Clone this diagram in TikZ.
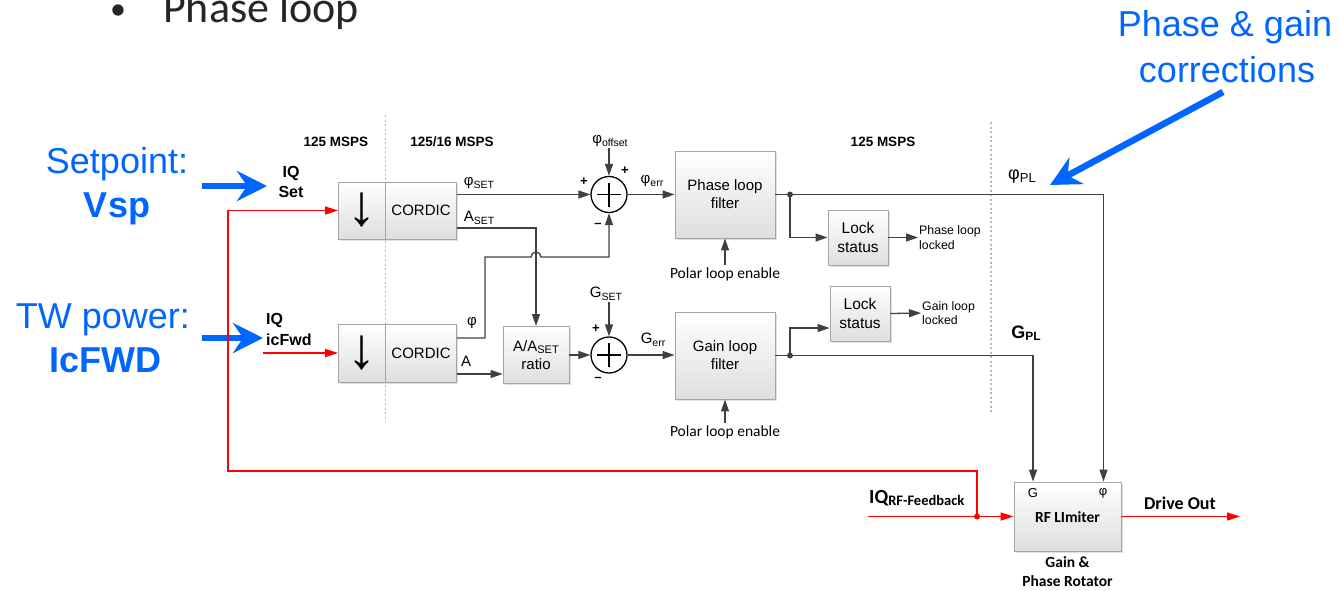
\documentclass[tikz,border=0pt]{standalone}
\usepackage{fontspec}
\setmainfont{Liberation Sans}
\newfontfamily\calfont{Carlito}
\usetikzlibrary{arrows.meta,shadows,calc}
\definecolor{slideblue}{RGB}{0,102,255}
\definecolor{wire}{RGB}{64,64,64}
\definecolor{boxedge}{RGB}{165,165,165}
\definecolor{boxbot}{RGB}{222,222,222}
\definecolor{redwire}{RGB}{255,0,0}
\newcommand\fsz[1]{\fontsize{#1}{#1}\selectfont}
\newcommand\lsub[2][10.5]{\raisebox{-2.5pt}{\fsz{#1}#2}}
\begin{document}
\begin{tikzpicture}[x=1pt,y=-1pt,
  blk/.style={draw=boxedge, line width=0.9pt, top color=white, bottom color=boxbot,
    inner sep=1pt, align=center, font=\fontsize{15}{18}\selectfont,
    drop shadow={shadow xshift=1.5pt,shadow yshift=-1.5pt,opacity=0.25,fill=black!50}},
  arr/.style={draw=wire, line width=1.3pt, -{Triangle[length=12pt,width=8pt]}},
  wireline/.style={draw=wire, line width=1.3pt},
  redarr/.style={draw=redwire, line width=1.5pt, -{Triangle[length=13pt,width=8pt]}},
  redline/.style={draw=redwire, line width=1.5pt},
  bluearr/.style={draw=slideblue, line width=6.5pt, -{Stealth[length=30pt,width=30pt,inset=10pt]}},
  sumnode/.style={circle, draw=black, line width=1.3pt, minimum size=36pt, inner sep=0pt,
    path picture={\draw[line width=1.1pt] ([xshift=-12pt]path picture bounding box.center) -- ([xshift=12pt]path picture bounding box.center);
                  \draw[line width=1.1pt] ([yshift=-12pt]path picture bounding box.center) -- ([yshift=12pt]path picture bounding box.center);}},
  lbl/.style={inner sep=1pt, font=\fsz{15}},
  pm/.style={inner sep=0pt, font=\bfseries\fsz{13}},
  rate/.style={inner sep=1pt, font=\bfseries\fsz{13.5}},
  dotline/.style={draw=black!28, line width=1.1pt, dash pattern=on 2pt off 2.5pt},
  bluetext/.style={anchor=base, inner sep=0pt, text=slideblue, font=\fsz{36}},
  downglyph/.style={inner sep=0pt, font=\fsz{58}}
]
\useasboundingbox (0,0) rectangle (1340,590);

% slide title
\node[anchor=base, inner sep=0pt, text=black!85, font=\calfont\fsz{32}] (bul) at (118,19) {•};
\node[anchor=base west, inner sep=0pt, text=black!85, font=\calfont\fsz{44}] (title) at (163,22) {Phase loop};

% blue annotations
\node[bluetext] (sp1) at (117,173) {Setpoint:};
\node[bluetext, font=\bfseries\fsz{36}] (sp2) at (117,217) {Vsp};
\node[bluetext] (tw1) at (103,328) {TW power:};
\node[bluetext, font=\bfseries\fsz{36}] (tw2) at (105,372) {IcFWD};
\node[bluetext] (pg1) at (1225,36) {Phase \& gain};
\node[bluetext] (pg2) at (1227,82) {corrections};

% rate labels and domain separators
\node[rate] (r1) at (336,142) {125 MSPS};
\node[rate] (r2) at (452,142) {125/16 MSPS};
\node[rate] (r3) at (883,142) {125 MSPS};
\coordinate (d1a) at (385.5,115); \coordinate (d1b) at (385.5,422);
\coordinate (d2a) at (991,122); \coordinate (d2b) at (991,413);
\draw[dotline] (d1a) -- (d1b);
\draw[dotline] (d2a) -- (d2b);

% input labels
\node[font=\bfseries\fontsize{16}{20}\selectfont, align=center, inner sep=1pt] (iqset) at (291,182) {IQ\\Set};
\node[font=\bfseries\fontsize{16}{21}\selectfont, align=left, anchor=west, inner sep=1pt] (iqfwd) at (265,329.5) {IQ\\icFwd};

% blocks
\node[blk, minimum width=47pt, minimum height=57pt] (dn1) at (362,210.5) {};
\node[blk, minimum width=71pt, minimum height=57pt] (cor1) at (421,210.5) {CORDIC};
\node[blk, minimum width=47pt, minimum height=58pt] (dn2) at (362,353) {};
\node[blk, minimum width=71pt, minimum height=58pt] (cor2) at (421,353) {CORDIC};
\node[downglyph] (dg1) at (dn1.center) {↓};
\node[downglyph] (dg2) at (dn2.center) {↓};
\node[blk, minimum width=66pt, minimum height=57pt] (ratio) at (536,355) {A/A\lsub[11]{SET}\\ratio};
\node[sumnode] (sum1) at (609,194.5) {};
\node[sumnode] (sum2) at (609,355) {};
\node[blk, minimum width=100pt, minimum height=87pt] (pf) at (725,194.5) {Phase loop\\filter};
\node[blk, minimum width=100pt, minimum height=87pt] (gf) at (725,355.5) {Gain loop\\filter};
\node[blk, minimum width=60pt, minimum height=55pt, font=\fontsize{15.5}{19}\selectfont] (ls1) at (858,237.5) {Lock\\status};
\node[blk, minimum width=60pt, minimum height=55pt, font=\fontsize{15.5}{19}\selectfont] (ls2) at (860,313.5) {Lock\\status};
\node[blk, minimum width=107pt, minimum height=69pt] (rf) at (1067.5,516.5) {};

% signal labels
\node[lbl] (phiset) at (479,183) {φ\lsub{SET}};
\node[lbl] (aset) at (479,218) {A\lsub{SET}};
\node[lbl] (phioff) at (610,141) {φ\lsub{offset}};
\node[lbl] (phierr) at (652,181) {φ\lsub{err}};
\node[lbl] (phi2) at (472,323) {φ};
\node[lbl] (a2) at (466,361) {A};
\node[lbl] (gset) at (606,294) {G\lsub{SET}};
\node[lbl] (gerr) at (653,340) {G\lsub{err}};
\node[pm] (p1) at (584,182) {+};
\node[pm] (p2) at (625,171) {+};
\node[pm] (m1) at (598,225) {–};
\node[pm] (p3) at (596,329) {+};
\node[pm] (m2) at (598,379) {–};
\node[inner sep=2pt, font=\calfont\fsz{15.5}] (pe1) at (725,274) {Polar loop enable};
\node[inner sep=2pt, font=\calfont\fsz{15.5}] (pe2) at (725,432) {Polar loop enable};
\node[anchor=west, align=left, inner sep=1pt, font=\fontsize{12.3}{15}\selectfont] (pll) at (918,237.5) {Phase loop\\locked};
\node[anchor=west, align=left, inner sep=1pt, font=\fontsize{12.3}{14}\selectfont] (gll) at (921,313) {Gain loop\\locked};
\node[inner sep=1pt] (phipl) at (1022,177) {\fsz{18}φ\lsub[13]{PL}};
\node[inner sep=1pt, font=\bfseries] (gpl) at (1026,333) {\fsz{18}G\lsub[12]{PL}};
\node[inner sep=0pt, font=\fsz{13}] (rfg) at (1033,493) {G};
\node[inner sep=0pt, font=\fsz{13}] (rfp) at (1103,493) {φ};
\node[inner sep=0pt, font=\calfont\bfseries\fsz{15.5}] (rfl) at (1067.5,517) {RF LImiter};
\node[inner sep=0pt, align=center, font=\calfont\bfseries\fontsize{15.5}{19}\selectfont] (gpr) at (1067.5,572) {Gain \&\\Phase Rotator};
\node[anchor=base west, inner sep=0pt, font=\calfont\bfseries] (iqrf) at (869,503) {\fsz{20}IQ\lsub[14.5]{RF-Feedback}};
\node[inner sep=0pt, font=\calfont\bfseries\fsz{18}] (dout) at (1180,503) {Drive Out};

% coordinates
\coordinate (ba1s) at (202,186); \coordinate (ba1e) at (267,186);
\coordinate (ba2s) at (1223,92); \coordinate (ba2e) at (1050,185);
\coordinate (ba3s) at (202,338); \coordinate (ba3e) at (263,338);
\coordinate (phiv) at (485,257);
\coordinate (aout) at (456.5,374);
\coordinate (j1) at (790,194.5);
\coordinate (j2) at (790,355.5);
\coordinate (rfin) at (868,516.5);
\coordinate (jr) at (977,516.5);
\coordinate (rc) at (228,471);
\coordinate (icin) at (263,353);
\coordinate (outend) at (1240,516.5);

% blue arrows
\draw[bluearr] (ba1s) -- (ba1e);
\draw[bluearr] (ba2s) -- (ba2e);
\draw[bluearr] (ba3s) -- (ba3e);

% top path
\draw[arr] (cor1.east |- sum1.west) -- (sum1.west);
\draw[arr] ([yshift=-17.5pt]cor1.east) -| (ratio.north);
\draw[arr] (sum1.north |- phioff.south) -- (sum1.north);
\draw[arr] (sum1.east) -- (pf.west |- sum1.east);
\draw[arr] (pe1.north) -- (pf.south);
\draw[arr] (pf.east) -| ([xshift=36pt]rf.north);
\draw[arr] (j1) |- (ls1.west);
\draw[arr] (ls1.east) -- (pll.west);
\fill[wire] (j1) circle[radius=3pt];

% phase feedback path with hop
\draw[arr] ([yshift=15pt]cor2.east) -| (phiv) -- (531,257) arc[start angle=180, end angle=360, radius=5] -- (sum1.south |- phiv) -- (sum1.south);

% bottom path
\draw[arr] (aout) -- (aout -| ratio.west);
\draw[arr] (ratio.east |- sum2.west) -- (sum2.west);
\draw[arr] (sum2.north |- gset.south) -- (sum2.north);
\draw[arr] (sum2.east) -- (gf.west |- sum2.east);
\draw[arr] (pe2.north) -- (gf.south);
\draw[arr] (gf.east) -| ([xshift=-34.5pt]rf.north);
\draw[arr] (j2) |- ([yshift=-14.5pt]ls2.west);
\draw[arr] (ls2.east) -- (gll.west);
\fill[wire] (j2) circle[radius=3pt];

% red RF paths
\draw[redarr] (icin) -- (dn2.west);
\draw[redarr] (jr) |- (rc) |- (dn1.west);
\draw[redarr] (rfin) -- (rf.west);
\draw[redarr] (rf.east) -- (outend);
\fill[redwire] (jr) circle[radius=3pt];
\end{tikzpicture}
\end{document}
